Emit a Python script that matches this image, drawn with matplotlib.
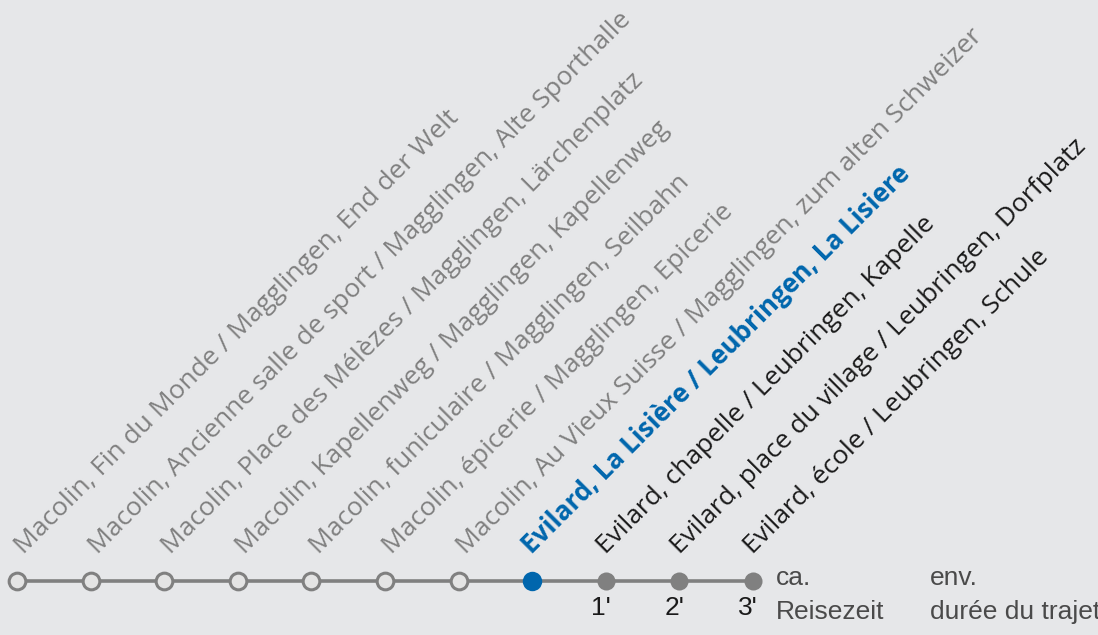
import matplotlib
matplotlib.use("Agg")
import matplotlib.pyplot as plt
import matplotlib.transforms as mtransforms

stops = [
    "Macolin, Fin du Monde / Magglingen, End der Welt",
    "Macolin, Ancienne salle de sport / Magglingen, Alte Sporthalle",
    "Macolin, Place des Mélèzes / Magglingen, Lärchenplatz",
    "Macolin, Kapellenweg / Magglingen, Kapellenweg",
    "Macolin, funiculaire / Magglingen, Seilbahn",
    "Macolin, épicerie / Magglingen, Epicerie",
    "Macolin, Au Vieux Suisse / Magglingen, zum alten Schweizer",
    "Evilard, La Lisière / Leubringen, La Lisiere",
    "Evilard, chapelle / Leubringen, Kapelle",
    "Evilard, place du village / Leubringen, Dorfplatz",
    "Evilard, école / Leubringen, Schule",
]
times = ["", "", "", "", "", "", "", "", "1'", "2'", "3'"]
current = 7
legend_de = ["ca.", "Reisezeit"]
legend_fr = ["env.", "durée du trajet"]

BG = "#e6e7e9"
GRAY = "#808080"
BLUE = "#0066ad"
BLACK = "#1a1a1a"
LEG = "#4a4a4a"

fig = plt.figure(figsize=(10.98, 6.35), dpi=100, facecolor=BG)
ax = fig.add_axes([0, 0, 1, 1])
ax.set_facecolor(BG)
sp = 73.6
ax.set_xlim(-17 / sp, (1098 - 17) / sp)
ax.set_ylim(-54, 581)
ax.axis("off")

n = len(stops)
xs = list(range(n))
ax.plot(xs, [0] * n, color=GRAY, lw=2.6, zorder=1, solid_capstyle="butt")

for i, name in enumerate(stops):
    if i < current:
        ax.plot(i, 0, "o", ms=12, mfc="#e4e4e4", mec=GRAY, mew=2.2, zorder=2)
        col, fw, dx, fs = GRAY, "normal", 7, 19.0
    elif i == current:
        ax.plot(i, 0, "o", ms=14, mfc=BLUE, mec=BLUE, mew=0, zorder=2)
        col, fw, dx, fs = BLUE, "bold", 0, 18.8
    else:
        ax.plot(i, 0, "o", ms=13, mfc=GRAY, mec=GRAY, mew=0, zorder=2)
        col, fw, dx, fs = BLACK, "normal", 0, 19.0
    tr = mtransforms.offset_copy(ax.transData, fig=fig, x=dx, y=26, units="dots")
    ax.text(i, 0, name, transform=tr, rotation=45, rotation_mode="anchor",
            ha="left", va="baseline", fontsize=fs, color=col, fontweight=fw,
            family="Open Sans")
    if times[i]:
        tr2 = mtransforms.offset_copy(ax.transData, fig=fig, x=-5, y=-27, units="dots")
        ax.text(i, 0, times[i], transform=tr2, ha="center", va="center",
                fontsize=19, color=BLACK, family="Liberation Sans")

for k, (txt_de, txt_fr) in enumerate(zip(legend_de, legend_fr)):
    yoff = 3 if k == 0 else -31
    tr3 = mtransforms.offset_copy(ax.transData, fig=fig, x=23, y=yoff, units="dots")
    ax.text(n - 1, 0, txt_de, transform=tr3, ha="left", va="center",
            fontsize=19, color=LEG, family="Liberation Sans")
    tr4 = mtransforms.offset_copy(ax.transData, fig=fig, x=177, y=yoff, units="dots")
    ax.text(n - 1, 0, txt_fr, transform=tr4, ha="left", va="center",
            fontsize=19, color=LEG, family="Liberation Sans")

fig.savefig("out.png", dpi=100, facecolor=BG)
